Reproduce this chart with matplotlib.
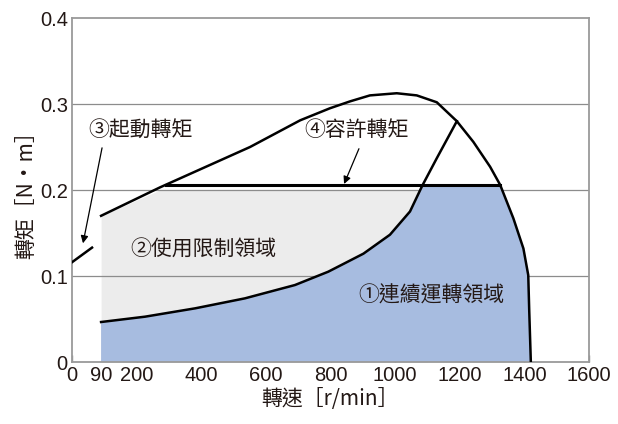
import numpy as np
import matplotlib
matplotlib.use('Agg')
import matplotlib.pyplot as plt

cjk = ['Noto Sans CJK TC', 'DejaVu Sans']
num_font = ['Liberation Sans', 'DejaVu Sans']
plt.rcParams['font.family'] = cjk

# upper curve: starting torque line, then allowable torque peak and fall-off
v_upper = [90, 272, 551, 706, 798, 860, 922, 1005, 1067, 1129, 1191, 1242, 1294, 1325,
           1366, 1397, 1412, 1415, 1420]
t_upper = [0.170, 0.203, 0.250, 0.281, 0.295, 0.303, 0.310, 0.3125, 0.310, 0.302, 0.280, 0.256, 0.227, 0.206,
           0.167, 0.132, 0.101, 0.060, 0.0]

# lower curve: boundary of continuous operation region
v_lower = [90, 226, 381, 535, 690, 793, 845, 902, 984, 1046, 1084, 1129, 1191]
t_lower = [0.0465, 0.0527, 0.0624, 0.074, 0.0895, 0.105, 0.115, 0.126, 0.148, 0.175, 0.205, 0.237, 0.280]

# permissible torque plateau
plateau_v = [291, 1325]
plateau_t = 0.206

# short starting torque segment near 0 rpm
start_v = [0, 62]
start_t = [0.116, 0.133]

xticks = [0, 200, 400, 600, 800, 1000, 1200, 1400, 1600]
yticks = [0, 0.1, 0.2, 0.3, 0.4]
ylabels = ['0', '0.1', '0.2', '0.3', '0.4']

blue = '#a7bce0'
gray = '#ececec'
grid_c = '#8c8c8c'
txt_c = '#231815'

fig = plt.figure(figsize=(6.18, 4.24), dpi=100)
ax = fig.add_axes([72 / 618, 62 / 424, 517 / 618, 344 / 424])
ax.set_xlim(0, 1600)
ax.set_ylim(0, 0.4)

# gray region (limited use) - clipped at 0.2
gx = [90, 272, 1100]
gt = [0.170, 0.2, 0.2]
ax.fill_between(gx, 0, gt, color=gray, lw=0, zorder=0.5)

for y in [0.1, 0.2, 0.3]:
    ax.axhline(y, color=grid_c, lw=0.9, zorder=1)

# blue region (continuous operation)
vl = np.array(v_lower)
tl = np.array(t_lower)
vu = np.array(v_upper)
tu = np.array(t_upper)
keep_l = vl <= 1084
keep_u = vu >= 1325
poly_x = np.concatenate([[90], vl[keep_l], vu[keep_u], [90]])
poly_y = np.concatenate([[0], tl[keep_l], tu[keep_u], [0]])
ax.fill(poly_x, poly_y, color=blue, lw=0, zorder=2)

ax.plot(v_upper, t_upper, color='k', lw=1.8, zorder=3, solid_joinstyle='round')
ax.plot(v_lower, t_lower, color='k', lw=1.8, zorder=3, solid_joinstyle='round')
ax.plot(plateau_v, [plateau_t, plateau_t], color='k', lw=2.2, zorder=3)
ax.plot(start_v, start_t, color='k', lw=1.8, zorder=3)

arrow = dict(arrowstyle='-|>', lw=0.9, color='k', mutation_scale=11, shrinkA=0, shrinkB=0)
ax.annotate('', xy=(34, 0.138), xytext=(93, 0.249), arrowprops=arrow, zorder=4)
ax.annotate('', xy=(842, 0.207), xytext=(888, 0.248), arrowprops=arrow, zorder=4)

ax.text(50, 0.270, '③起動轉矩', fontsize=15, va='center', color=txt_c, zorder=5)
ax.text(718, 0.270, '④容許轉矩', fontsize=15, va='center', color=txt_c, zorder=5)
ax.text(180, 0.131, '②使用限制領域', fontsize=15, va='center', color=txt_c, zorder=5)
ax.text(885, 0.077, '①連續運轉領域', fontsize=15, va='center', color=txt_c, zorder=5)

ax.set_xticks(xticks, [str(x) for x in xticks], fontfamily=num_font, fontsize=14.5, color=txt_c)
ax.set_xticks([90], ['90'], minor=True, fontfamily=num_font, fontsize=14.5, color=txt_c)
ax.set_yticks(yticks, ylabels, fontfamily=num_font, fontsize=14.5, color=txt_c)
ax.tick_params(axis='x', which='major', direction='in', length=5, width=1, color=grid_c, pad=3)
ax.tick_params(axis='x', which='minor', length=0, pad=3)
ax.tick_params(axis='y', length=0, pad=3)

for s in ax.spines.values():
    s.set_color('#9a9a9a')
    s.set_linewidth(1.3)

ax.set_xlabel('轉速［r/min］', fontsize=15, color=txt_c, labelpad=2)
ax.set_ylabel('轉矩［N・m］', fontsize=15, color=txt_c, labelpad=2)

fig.savefig('out.png', dpi=100)
